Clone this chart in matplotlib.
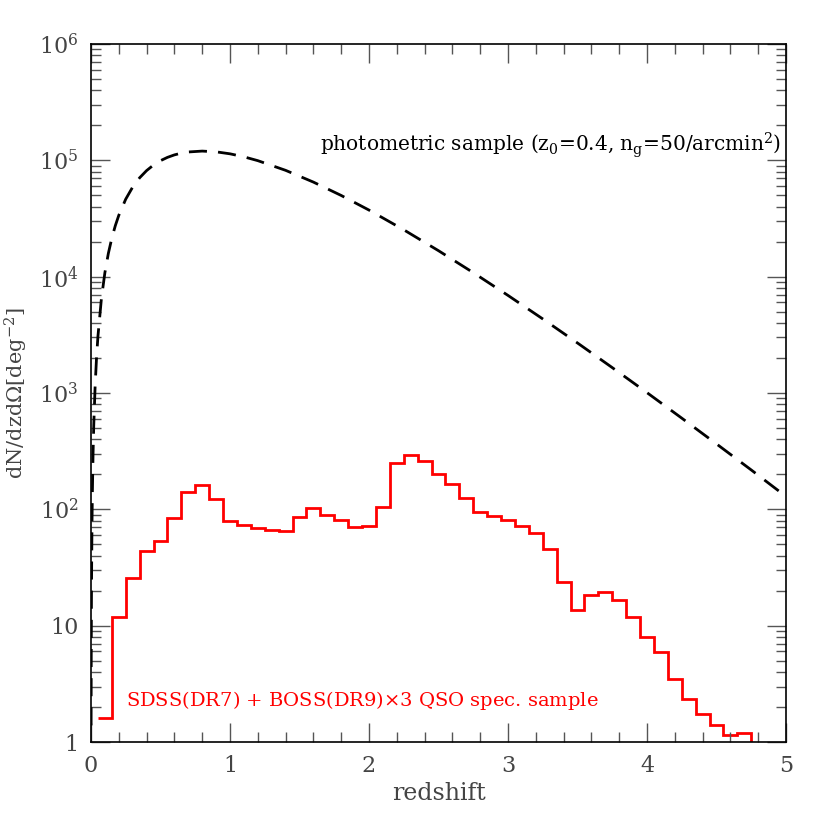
import matplotlib
matplotlib.use("Agg")
import matplotlib.pyplot as plt
from matplotlib.ticker import FixedLocator, MultipleLocator, LogLocator, FuncFormatter, NullFormatter
import numpy as np

# QSO spectroscopic sample, histogram in bins of 0.1 starting at z=0.05
bin_edges = np.round(np.arange(0.05, 4.86, 0.1), 2)
qso_counts = [1.6, 11.9, 25.9, 44, 53, 85, 140, 162, 123, 79.5,
              74, 68.5, 67, 65.5, 86.5, 102, 89, 81, 71, 72,
              105, 249, 295, 262, 203, 166, 124, 94.5, 87.5, 80.5,
              72, 62, 45.5, 23.8, 13.6, 18.5, 19.4, 16.5, 11.9, 8.0,
              5.9, 3.5, 2.36, 1.75, 1.41, 1.16, 1.2, 0.5]

# photometric sample curve
photo_z = [0.001, 0.002, 0.0035, 0.005, 0.0075, 0.01, 0.015, 0.02, 0.03, 0.04,
           0.05, 0.075, 0.1, 0.125, 0.15, 0.175, 0.2, 0.25, 0.3, 0.35,
           0.4, 0.45, 0.5, 0.55, 0.6, 0.65, 0.7, 0.8, 0.9, 1.0,
           1.1, 1.2, 1.4, 1.6, 1.8, 2.0, 2.25, 2.5, 2.75, 3.0,
           3.25, 3.5, 3.75, 4.0, 4.25, 4.5, 4.75, 5.0]
photo_n = [1.39, 5.5, 16.8, 34, 76.5, 135, 300, 527, 1157, 2006,
           3058, 6463, 10794, 15843, 21430, 27400, 33625, 46370, 58920, 70780,
           81580, 91130, 99280, 106000, 111340, 115300, 118000, 120050, 118320, 113770,
           107200, 99370, 82040, 65000, 49890, 37360, 25290, 16720, 10830, 6900,
           4334, 2691, 1653, 1007, 608, 365, 218, 129]

plt.rcParams['font.family'] = ['DejaVu Serif']
plt.rcParams['mathtext.fontset'] = 'dejavuserif'

fig = plt.figure(figsize=(8.3, 8.3), dpi=100)
ax = fig.add_axes([0.1096, 0.106, 0.8374, 0.841])

ax.plot(photo_z, photo_n, color='black', lw=2.0, linestyle=(0, (6.5, 4)))
ax.stairs(qso_counts, bin_edges, baseline=None, color='#ff0000', lw=2.0)

ax.set_yscale('log')
ax.set_xlim(0, 5)
ax.set_ylim(1, 1e6)

def ylab(v, pos):
    if v == 1:
        return '1'
    if v == 10:
        return '10'
    return '$\\mathregular{10^{%d}}$' % round(np.log10(v))

ax.yaxis.set_major_locator(FixedLocator([1, 10, 100, 1e3, 1e4, 1e5, 1e6]))
ax.yaxis.set_major_formatter(FuncFormatter(ylab))
ax.yaxis.set_minor_locator(LogLocator(base=10, subs=np.arange(2, 10), numticks=20))
ax.yaxis.set_minor_formatter(NullFormatter())
ax.xaxis.set_major_locator(MultipleLocator(1))
ax.xaxis.set_minor_locator(MultipleLocator(0.2))

ax.tick_params(which='both', direction='in', top=True, right=True,
               labelsize=16, labelcolor='#444444', color='#555555')
ax.tick_params(which='major', length=14, width=1)
ax.tick_params(which='minor', length=7, width=1)
ax.tick_params(axis='x', pad=9)
ax.tick_params(axis='y', pad=9)
for s in ax.spines.values():
    s.set_linewidth(1.2)

ax.set_xlabel('redshift', fontsize=17, color='#444444')
ax.set_ylabel(r'dN/dzd$\mathregular{\Omega}$[deg$^{\mathregular{-2}}$]', fontsize=15, color='#444444')
ax.yaxis.set_label_coords(-0.088, 0.5)

ax.text(0.993, 0.855, r'photometric sample (z$_\mathregular{0}$=0.4, n$_\mathregular{g}$=50/arcmin$^\mathregular{2}$)',
        transform=ax.transAxes, ha='right', va='center', fontsize=14.5, color='black')
ax.text(0.05, 0.060, r'SDSS(DR7) + BOSS(DR9)$\mathregular{\times}$3 QSO spec. sample',
        transform=ax.transAxes, ha='left', va='center', fontsize=14, color='#ff0000')

fig.savefig('out.png', dpi=100)
